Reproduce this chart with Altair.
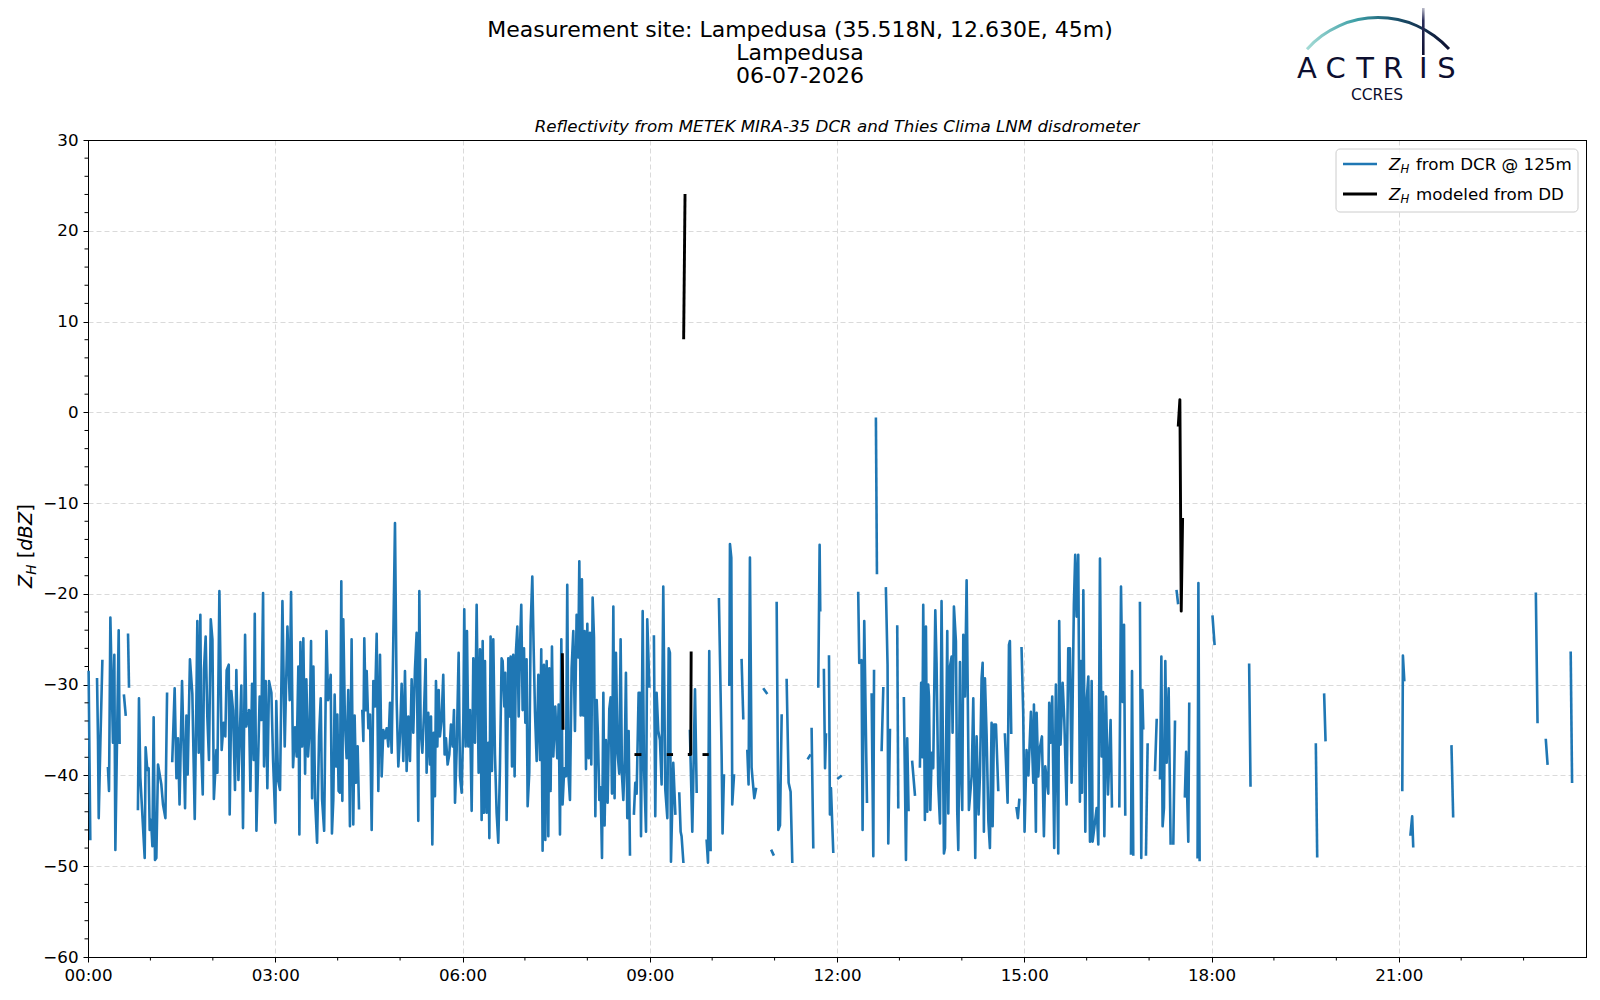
import altair as alt
import pandas as pd

# ---------------- data (minute of day, dBZ); None = gap in the record ----------------
dcr_00_04 = [
    (0.6, -28.6), (2.2, -47.0), None,
    (8.7, -29.4), (9.6, -36.0), (10.3, -44.7), (11.9, -36.4), (13.8, -27.4), None,
    (19.2, -39.2), (20.2, -41.7), (21.5, -22.6), (24.0, -36.4), (25.3, -26.7), (26.3, -48.2),
    (29.5, -24.0), (30.4, -36.4), None,
    (34.6, -31.2), (36.2, -33.3), None,
    (38.5, -24.5), (39.4, -30.2), None,
    (48.0, -43.7), (49.0, -31.5), (50.3, -40.2), (54.5, -49.1), (55.4, -36.9), (57.0, -39.4),
    (58.3, -39.2), (59.3, -46.0), (60.6, -44.9), (61.9, -47.8), (63.1, -33.6), (64.4, -49.3),
    (65.7, -49.1), (67.3, -38.8), (70.5, -41.0), (72.1, -43.2), (74.4, -44.7), (76.0, -31.0), None,
    (81.0, -38.4), (83.3, -30.4), (85.0, -40.3), (86.5, -35.9), (88.0, -43.2), (90.4, -29.6),
    (93.3, -43.6), (94.6, -33.4), (95.8, -39.9), (98.0, -27.2), (100.3, -31.0), (102.6, -44.8),
    (104.2, -31.7), (105.1, -23.0), (106.4, -37.5), (108.0, -22.3), (109.0, -37.7), (110.3, -42.1),
    (111.5, -28.3), (113.1, -24.7), (114.7, -33.5), (116.3, -38.3), (118.0, -22.8), (119.6, -25.0),
    (121.0, -42.6), (123.4, -37.2), (124.4, -39.7), (126.3, -19.7), (128.5, -37.2), (130.4, -34.2),
    (132.0, -35.7), (133.3, -28.4), (135.3, -27.8), (136.2, -44.3), (137.8, -30.7), (139.4, -32.8),
    (141.3, -41.6), (142.6, -28.4), (144.6, -40.5), (147.4, -30.1), (149.0, -45.8), (151.0, -24.5),
    (152.2, -34.6), (154.8, -32.8), (156.1, -41.7), (157.7, -29.9), (159.3, -38.3), (160.3, -22.2),
    (161.9, -46.1), (165.0, -31.3), (166.7, -33.9), (168.3, -19.9), (169.2, -39.0), (170.8, -29.6),
    (172.4, -41.4), (174.0, -29.6), (176.3, -30.9), (177.9, -38.3), (180.1, -45.2), (181.0, -31.8),
    (182.7, -40.5), (184.6, -41.6), (186.9, -20.8), (189.1, -36.8), (191.7, -23.6), (193.9, -31.7),
    (195.2, -19.8), (197.1, -39.1), (199.0, -34.7), (200.6, -37.9), (202.2, -28.0), (203.2, -46.5),
    (204.2, -25.3), (205.8, -36.8), (207.0, -24.9), (208.7, -39.8), (209.9, -29.4), (211.5, -37.9),
    (213.1, -34.8), (214.4, -25.2), (215.4, -42.5), (216.7, -28.0), (218.3, -42.7), (220.2, -47.4),
    (222.1, -35.7), (223.7, -31.5), (225.0, -42.6), (227.0, -46.1), (229.2, -24.1), (230.8, -31.7),
    (233.3, -28.9), (234.5, -46.4), (235.8, -42.7), (237.1, -31.1), (238.4, -39.0),
]

dcr_04_08 = [
    (239.7, -33.3), (240.9, -41.7), (242.2, -41.9), (243.5, -18.6), (244.5, -42.8), (245.4, -22.8),
    (247.0, -34.2), (248.6, -38.1), (250.2, -30.6), (251.8, -45.6), (253.4, -25.0), (255.0, -45.4),
    (256.3, -33.4), (257.6, -40.8), (259.2, -36.8), (260.5, -43.6), None,
    (263.7, -32.9), (264.7, -36.2), (265.6, -24.9), (266.9, -32.8), (267.9, -28.5), (269.5, -34.8),
    (271.1, -33.3), (272.7, -46.0), (274.3, -29.6), (275.9, -32.4), (277.5, -24.4), (279.1, -41.7),
    (280.7, -26.7), (282.3, -40.1), (283.9, -35.0), (285.5, -35.9), (287.1, -34.8), (288.7, -36.8),
    (290.3, -32.0), (291.9, -37.5), (293.5, -24.9), (295.1, -12.2), (296.7, -31.7), (298.3, -39.0),
    (299.9, -35.7), (301.5, -29.9), (303.1, -38.4), (304.7, -28.5), (306.3, -39.5), (307.9, -33.5),
    (309.5, -38.4), (311.1, -29.4), (312.7, -35.3), (314.3, -28.3), (315.9, -24.3), (317.5, -45.0),
    (318.5, -19.7), (319.8, -35.1), (321.4, -37.5), (323.0, -33.1), (324.6, -27.2), (325.5, -39.7),
    (327.1, -33.1), (328.7, -38.8), (329.7, -33.5), (331.0, -47.6), (332.3, -35.3), (333.5, -42.3),
    (334.5, -29.6), (335.8, -36.8), (337.1, -30.6), (338.3, -35.7), (339.9, -33.9), (341.5, -28.9),
    (342.8, -37.7), (344.1, -35.9), (345.7, -38.8), (347.3, -37.7), (348.9, -34.4), (350.5, -36.8),
    (351.8, -32.8), (352.8, -43.0), (354.4, -37.2), (356.3, -26.5), (357.6, -40.1), (359.2, -41.9),
    (360.8, -33.9), (361.7, -21.7), (363.0, -36.8), (364.3, -24.1), (365.6, -36.8), (367.2, -32.8),
    (368.8, -43.9), (370.4, -27.1), (372.0, -36.4), (373.6, -21.2), (375.5, -39.7), (376.8, -26.1),
    (378.4, -44.9), (379.4, -25.2), (380.6, -44.1), (381.6, -27.4), (383.2, -44.1), (384.8, -36.4),
    (385.8, -46.9), (387.0, -24.7), (388.3, -39.5), (389.6, -25.0), (391.2, -37.7), (392.8, -44.1),
    (394.4, -47.4), (396.0, -39.2), (397.6, -27.1), (398.6, -27.4), (400.2, -32.4), (401.1, -28.7),
    (402.4, -44.9), (404.0, -27.1), (405.0, -33.5), (406.3, -26.9), (407.6, -39.0), (408.8, -26.7),
    (410.1, -40.1), (411.4, -26.3), (412.7, -23.6), (414.0, -33.5), (415.2, -25.8), (416.5, -21.2),
    (417.8, -32.8), (419.1, -26.0), (420.4, -34.2), (421.6, -27.2), (422.6, -43.4), (424.2, -39.7),
    (425.5, -23.6), (427.1, -18.1), (428.4, -26.0), (429.7, -33.1), (431.3, -38.4), (432.9, -28.9),
    (434.5, -38.3), (435.7, -26.1), (437.0, -48.3), (438.3, -27.8), (439.6, -47.1), (440.9, -27.4),
    (442.5, -46.7), (443.4, -28.2), (444.7, -41.7), (446.0, -25.8), (447.3, -37.9), (449.2, -32.4),
    (451.1, -38.1), (452.4, -32.2), (453.7, -46.5), (455.0, -25.0), (456.2, -43.2), (457.8, -39.2),
    (459.5, -40.1), (460.7, -19.0), (461.9, -40.0), (463.3, -42.7), (464.9, -28.2), (466.5, -24.1),
    (468.1, -35.1), (469.7, -22.3), (471.3, -27.0), (472.3, -16.4), (473.6, -33.4), (474.8, -18.4),
    (476.1, -33.4), (477.4, -24.1), (478.7, -39.3),
]

dcr_08_12 = [
    (480.0, -23.3), (481.3, -38.1), (482.5, -24.3), (483.8, -38.8), (485.1, -20.4), (486.4, -24.8),
    (487.7, -44.5), (489.0, -31.7), (490.2, -35.6), (491.5, -42.7), (492.8, -41.3), (494.1, -49.1),
    (495.4, -30.9), (496.6, -45.5), (497.9, -36.1), (499.5, -43.0), (501.1, -32.7), (502.4, -31.4),
    (503.7, -42.0), (505.0, -21.4), (506.2, -42.5), (507.5, -26.5), (509.1, -37.6), (510.7, -39.8),
    (512.0, -25.0), (513.3, -40.0), (514.6, -42.7), (515.9, -38.3), (517.1, -28.7), (518.4, -44.7),
    (519.7, -35.1), (521.0, -48.7), None,
    (524.8, -44.2), (526.1, -40.8), (527.4, -42.0), (529.3, -30.9), (530.6, -30.9), (531.6, -46.7),
    (533.2, -21.9), (534.4, -38.8), (536.4, -46.2), (537.6, -22.8), (539.6, -30.2), None,
    (544.0, -24.7), (545.3, -44.5), (546.6, -30.9), (548.2, -35.1), (549.8, -36.1), (551.4, -41.0),
    (553.0, -19.2), (554.9, -41.5), (556.9, -44.7), (558.2, -26.0), (559.4, -26.5), (560.4, -49.5),
    (562.6, -38.6), (564.6, -44.2), None,
    (568.4, -42.0), (569.7, -46.2), (570.6, -46.7), (572.3, -49.5), None,
    (578.6, -35.1), (580.9, -46.2), (583.5, -30.5), (585.1, -41.8), None,
    (594.7, -47.2), (596.0, -49.6), (597.2, -26.3), (598.5, -48.2), None,
    (606.5, -20.6), (608.1, -30.9), (609.1, -37.8), (610.0, -46.4), (611.3, -40.0), None,
    (616.5, -30.0), (617.1, -14.5), (618.4, -16.0), (619.3, -43.2), (621.0, -40.0), None,
    (628.3, -27.3), (629.9, -33.7), None,
    (633.8, -37.3), (635.0, -41.0), (636.3, -16.0), (637.9, -39.1), (638.9, -40.5), (640.5, -42.5),
    (642.1, -41.5), None,
    (649.8, -30.5), (652.3, -30.9), None,
    (657.2, -48.3), (658.8, -48.7), None,
    (662.0, -21.0), (663.6, -46.0), (665.2, -45.5), (666.8, -33.4), None,
    (671.6, -29.5), (673.5, -40.8), (675.4, -41.8), (677.0, -49.5), None,
    (692.4, -38.1), (694.0, -37.8), None,
    (695.6, -34.9), (697.2, -47.9), None,
    (702.0, -30.2), (703.3, -14.6), (703.9, -21.8), None,
    (707.4, -28.4), (708.5, -39.2), (709.4, -35.5), None,
    (712.3, -26.9), (713.2, -44.3), (714.2, -41.4), (716.4, -48.4), None,
]

dcr_12_16 = [
    (721.2, -40.3), (723.5, -40.1), None,
    (740.4, -19.9), (741.4, -27.6), (743.6, -27.3), (744.6, -46.0), (746.2, -23.0), (748.8, -42.9), None,
    (753.3, -31.1), (754.9, -48.9), (755.6, -28.5), None,
    (757.4, -0.7), (758.4, -17.7), None,
    (762.9, -37.2), (764.5, -30.4), None,
    (767.0, -19.4), (768.6, -27.8), (769.3, -47.5), (770.9, -35.0), None,
    (777.9, -23.6), (778.9, -43.5), None,
    (784.3, -31.5), (786.3, -49.3), (787.5, -35.9), (788.8, -43.8), None,
    (792.3, -38.5), (794.9, -42.1), None,
    (799.7, -39.0), (800.9, -29.8), (802.0, -38.0), (802.9, -21.2), (804.5, -44.9), (805.5, -23.6),
    (806.8, -44.0), (807.7, -30.0), (808.4, -31.3), (809.7, -43.8), (811.0, -37.5), (812.5, -39.2),
    (814.5, -21.8), (815.7, -27.6), (817.3, -41.0), (819.0, -45.3), (820.5, -20.8), (822.8, -48.6),
    (823.8, -48.0), (826.0, -24.1), (827.0, -44.2), (828.6, -28.0), (830.2, -26.9), (831.1, -35.3),
    (832.4, -21.4), (834.3, -25.2), (835.6, -44.0), (836.6, -48.2), (838.2, -27.5), (838.8, -37.5),
    (840.4, -43.8), (841.4, -24.5), (843.0, -31.3), (844.6, -18.5), (846.8, -43.8), (849.5, -40.0),
    (851.0, -31.5), (852.9, -49.1), (854.2, -35.7), (856.1, -44.3), (857.4, -40.0), (859.0, -29.3),
    (860.0, -27.6), (861.2, -46.2), (862.2, -29.3), (863.8, -35.5), (865.5, -45.0), (867.0, -48.0),
    (868.6, -34.2), (869.6, -45.6), (870.9, -34.4), (872.8, -34.4), (875.0, -41.6), None,
    (881.4, -35.5), (884.0, -43.0), (885.3, -25.6), (886.2, -25.2), (887.5, -35.3), None,
    (892.6, -43.6), (893.9, -44.7), (895.2, -42.7), None,
    (897.4, -26.0), (899.0, -33.1), (900.3, -46.2), (902.2, -37.2), (904.0, -40.0), (906.4, -33.0),
    (908.7, -40.8), (909.3, -32.2), (911.2, -46.2), (911.9, -33.1), (913.5, -40.1), (915.0, -37.0),
    (917.0, -35.7), (918.9, -46.7), (920.2, -39.0), (923.1, -42.0), (924.0, -32.0), (925.3, -36.4),
    (926.9, -31.3), (928.8, -48.0), (930.4, -30.0), (932.7, -48.6), (933.6, -23.0), (934.9, -36.6),
    (936.9, -29.8), (938.5, -33.9), (940.7, -43.2), (942.3, -26.0), (943.9, -26.0), (945.5, -40.8),
    (947.7, -21.2), (949.0, -15.7), (950.3, -22.5), (951.9, -15.7), (953.5, -42.9),
]

dcr_16_24 = [
    (954.5, -27.4), (955.5, -41.9), (956.8, -19.6), (958.7, -46.2), (960.0, -31.7), (961.6, -29.1),
    (963.2, -47.3), (964.8, -29.6), (965.7, -47.3), (969.6, -43.6), (971.2, -47.6), (972.8, -16.1),
    (974.4, -37.9), (975.7, -30.8), (977.0, -46.7), (978.6, -31.3), (980.5, -42.1), (983.0, -33.9),
    (984.3, -43.4), None,
    (991.4, -43.4), (993.0, -19.2), (994.6, -31.9), (995.9, -23.4), (997.1, -44.3), None,
    (1002.6, -48.6), (1003.6, -28.5), (1004.8, -48.7), None,
    (1011.2, -21.0), (1012.5, -49.1), (1013.5, -30.6), (1014.4, -34.8), None,
    (1017.0, -48.7), (1018.6, -36.6), None,
    (1025.7, -39.4), (1027.3, -33.9), None,
    (1030.5, -40.3), (1031.8, -26.9), (1033.0, -45.6), (1034.3, -43.6), (1035.6, -27.4),
    (1036.9, -38.6), (1038.8, -30.4), (1040.7, -47.5), None,
    (1043.3, -47.5), (1044.9, -34.1), None,
    (1046.5, -19.7), (1047.8, -21.0), None,
    (1054.4, -42.3), (1055.6, -37.4), (1057.7, -47.3), (1058.6, -32.1), None,
    (1066.6, -49.0), (1067.4, -18.8), (1068.6, -49.3), None,
    (1081.0, -22.5), (1082.9, -25.5), None,
    (1116.2, -27.8), (1117.5, -41.1), None,
    (1180.3, -36.6), (1181.6, -48.9), None,
    (1188.3, -31.1), (1189.6, -36.1), None,
    (1263.4, -41.6), (1264.0, -26.8), (1265.3, -29.5), None,
    (1271.3, -46.5), (1272.9, -44.5), (1273.9, -47.8), None,
    (1310.7, -36.8), (1312.3, -44.5), None,
    (1391.8, -20.0), (1393.4, -34.1), None,
    (1401.4, -36.1), (1403.0, -38.7), None,
    (1425.3, -26.5), (1426.6, -40.7),
]

dd_samples = [
    (456.0, -26.7), (456.6, -34.8), None,
    (526.7, -37.7), (530.6, -37.7), None,
    (557.8, -37.7), (561.0, -37.7), None,
    (572.6, 8.2), (573.9, 23.9), None,
    (578.0, -37.7), (579.4, -37.7), (579.8, -26.5), None,
    (592.1, -37.7), (595.3, -37.7), None,
    (1048.1, -1.4), (1049.6, 1.4), (1050.9, -21.9), (1052.2, -11.8),
]

x_tick_minutes = [0, 180, 360, 540, 720, 900, 1080, 1260]
x_tick_labels = ["00:00", "03:00", "06:00", "09:00", "12:00", "15:00", "18:00", "21:00"]
x_minor_minutes = [60, 120, 240, 300, 420, 480, 600, 660, 780, 840, 960, 1020, 1140, 1200, 1320, 1380]
y_tick_values = [-60, -50, -40, -30, -20, -10, 0, 10, 20, 30]
y_tick_labels = ["−60", "−50", "−40", "−30", "−20", "−10", "0", "10", "20", "30"]
y_minor_values = [v for v in range(-58, 30, 2) if v % 10 != 0]

title_lines = ["Measurement site: Lampedusa (35.518N, 12.630E, 45m)", "Lampedusa", "06-07-2026"]
subtitle = "Reflectivity from METEK MIRA-35 DCR and Thies Clima LNM disdrometer"
legend_rest = ["from DCR @ 125m", "modeled from DD"]
logo_letters = ["A", "C", "T", "R", "I", "S"]

# ---------------- helpers ----------------
FONT = "DejaVu Sans"
BLUE = "#1f77b4"
NAVY = "#0d0f30"
W, H = 1498, 817          # plot area
OX, OY = 88, 140          # plot origin on the page


def to_frame(samples):
    rows, seg = [], 0
    for s in samples:
        if s is None:
            seg += 1
            continue
        rows.append({"t": s[0], "z": s[1], "seg": seg})
    return pd.DataFrame(rows)


def label_expr(values, labels):
    expr = "''"
    for v, l in reversed(list(zip(values, labels))):
        expr = f"datum.value == {v} ? '{l}' : ({expr})"
    return expr


one = pd.DataFrame({"k": [0]})


def text(txt, px, py, size, align="left", angle=0, font=FONT, color="black", **kw):
    args = dict(text=txt, fontSize=size, font=font, align=align, baseline="alphabetic",
                color=color, **kw)
    if angle:
        args["angle"] = angle
    return alt.Chart(one).mark_text(**args).encode(x=alt.value(px - OX), y=alt.value(py - OY))


def box(x0, x1, y0, y1, **kw):
    return alt.Chart(one).mark_rect(**kw).encode(
        x=alt.value(x0 - OX), x2=alt.value(x1 - OX), y=alt.value(y0 - OY), y2=alt.value(y1 - OY))


def hline(x0, x1, y, color, width):
    return alt.Chart(one).mark_rule(color=color, strokeWidth=width).encode(
        x=alt.value(x0 - OX), x2=alt.value(x1 - OX), y=alt.value(y - OY))


xscale = alt.Scale(domain=[0, 1440], nice=False, zero=False)
yscale = alt.Scale(domain=[-60, 30], nice=False, zero=False)

common_axis = dict(title=None, grid=True, gridColor="#d6d6d6", gridDash=[5, 3], gridWidth=0.9,
                   tickSize=5, tickColor="black", tickWidth=1, domainColor="black", domainWidth=1,
                   labelFont=FONT, labelFontSize=16.7, labelColor="black", labelPadding=5,
                   labelOverlap=False)

xaxis = alt.Axis(values=x_tick_minutes, labelExpr=label_expr(x_tick_minutes, x_tick_labels),
                 labelFlush=False, **common_axis)
yaxis = alt.Axis(values=y_tick_values, labelExpr=label_expr(y_tick_values, y_tick_labels),
                 **common_axis)

X = alt.X("t:Q", scale=xscale, axis=xaxis)
Y = alt.Y("z:Q", scale=yscale, axis=yaxis)

dcr_df = to_frame(dcr_00_04 + dcr_04_08 + dcr_08_12 + dcr_12_16 + dcr_16_24)
dd_df = to_frame(dd_samples)

dcr_line = alt.Chart(dcr_df).mark_line(color=BLUE, strokeWidth=2.6, strokeCap="square",
                                       strokeJoin="round").encode(x=X, y=Y, detail="seg:N")

dd_line = alt.Chart(dd_df).mark_line(color="black", strokeWidth=2.9, strokeCap="square",
                                     strokeJoin="round").encode(x=X, y=Y, detail="seg:N")

minor_x = alt.Chart(pd.DataFrame({"t": x_minor_minutes})).mark_rule(color="black", strokeWidth=1).encode(
    x=X, y=alt.value(H + 0.5), y2=alt.value(H + 3.5))
minor_y = alt.Chart(pd.DataFrame({"z": y_minor_values})).mark_rule(color="black", strokeWidth=1).encode(
    y=Y, x=alt.value(-3.5), x2=alt.value(0.5))

# crisp solid frame on top / right (over the grid line at 30 dBZ)
frame_top = alt.Chart(one).mark_rule(color="black", strokeWidth=1).encode(
    x=alt.value(0), x2=alt.value(W + 1), y=alt.value(0.5))
frame_right = alt.Chart(one).mark_rule(color="black", strokeWidth=1).encode(
    x=alt.value(W + 0.5), y=alt.value(0), y2=alt.value(H + 1))

# y-axis title:  Z_H [dBZ]  (rotated)
ylab = [
    text("Z", 32, 588, 19.4, angle=270, fontStyle="italic"),
    text("H", 36, 574.7, 13.6, angle=270, fontStyle="italic"),
    text("[", 32, 558.3, 19.4, angle=270),
    text("dBZ", 32, 550.7, 19.4, angle=270, fontStyle="italic"),
    text("]", 32, 511.8, 19.4, angle=270),
]

titles = [
    text(title_lines[0], 800, 36.5, 22, align="center"),
    text(title_lines[1], 800, 59.5, 22, align="center"),
    text(title_lines[2], 800, 82.5, 22, align="center"),
    text(subtitle, 837, 132, 16.7, align="center", fontStyle="italic"),
]

legend = [
    box(1336, 1578, 149, 212, fill="white", fillOpacity=0.8, stroke="#cccccc", strokeWidth=1,
        cornerRadius=4),
    hline(1343, 1377, 164, BLUE, 2.6),
    hline(1343, 1377, 194, "black", 2.9),
    text("Z", 1389, 169.5, 16.7, fontStyle="italic"),
    text("H", 1400.5, 173, 11.7, fontStyle="italic"),
    text(legend_rest[0], 1416, 169.5, 16.7),
    text("Z", 1389, 199.5, 16.7, fontStyle="italic"),
    text("H", 1400.5, 203, 11.7, fontStyle="italic"),
    text(legend_rest[1], 1416, 199.5, 16.7),
]

arc_fill = {"gradient": "linear", "x1": 0, "y1": 0, "x2": 1, "y2": 0,
            "stops": [{"offset": 0, "color": "#a6dcd6"}, {"offset": 0.35, "color": "#3d9fa6"},
                      {"offset": 0.6, "color": "#1c5670"}, {"offset": 1, "color": NAVY}]}
bar_fill = {"gradient": "linear", "x1": 0, "y1": 0, "x2": 0, "y2": 1,
            "stops": [{"offset": 0, "color": "#ffffff"}, {"offset": 0.35, "color": "#2b2e5a"},
                      {"offset": 1, "color": NAVY}]}

letter_x = [1307, 1335.5, 1365, 1393, 1423.3, 1446.5]
logo = [
    alt.Chart(one).mark_arc(radius=97, radius2=94, theta=5.445, theta2=7.121, fill=arc_fill).encode(
        x=alt.value(1378 - OX), y=alt.value(113 - OY)),
    box(1422, 1424.6, 2, 55, fill=bar_fill),
    text("CCRES", 1377, 99.5, 15.5, align="center", color=NAVY),
] + [text(l, lx, 78, 29, align="center", color=NAVY) for l, lx in zip(logo_letters, letter_x)]

chart = alt.layer(
    dcr_line, dd_line, minor_x, minor_y, frame_top, frame_right, *ylab, *titles, *legend, *logo
).properties(
    width=W, height=H,
    autosize=alt.AutoSizeParams(type="none"),
    padding={"left": OX - 8, "top": OY - 8, "right": 6, "bottom": 35},
    background="white",
).configure_view(strokeWidth=0)

chart.save("out.html", embed_options={"renderer": "svg", "actions": False})
